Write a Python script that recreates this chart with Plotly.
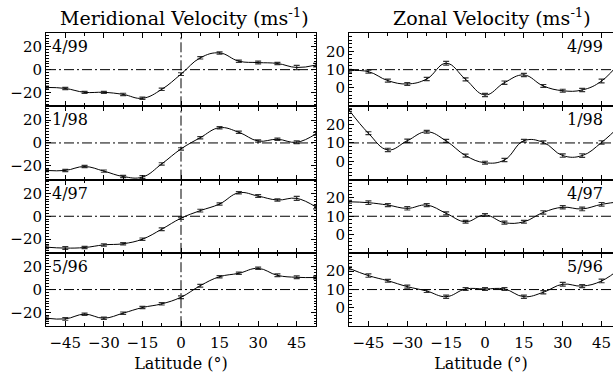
import plotly.graph_objects as go

# Latitude grid of the measurements (degrees)
latitude = [-52.5, -45, -37.5, -30, -22.5, -15, -7.5, 0, 7.5, 15, 22.5, 30, 37.5, 45, 52.5]

epochs = ["4/99", "1/98", "4/97", "5/96"]

# Meridional velocity (m/s) per epoch
meridional_4_99 = [-15.5, -16.4, -19.8, -19.8, -21.6, -25.0, -17.2, -3.9, 10.3, 14.6, 7.4, 6.2, 5.4, 1.9, 4.0]
meridional_1_98 = [-24.0, -24.0, -20.6, -24.6, -29.3, -29.8, -18.3, -5.2, 4.6, 13.3, 9.3, 1.7, 3.2, 0.6, 8.0]
meridional_4_97 = [-27.0, -27.8, -27.3, -25.0, -24.0, -20.0, -11.3, -1.7, 4.9, 10.7, 20.5, 17.6, 14.2, 15.6, 8.0]
meridional_5_96 = [-25.0, -25.6, -21.5, -25.0, -20.6, -15.7, -12.5, -6.7, 3.4, 11.2, 14.2, 18.5, 12.4, 10.7, 10.5]

meridional_err_4_99 = [1.2, 1.0, 0.9, 0.9, 1.0, 1.0, 1.0, 1.2, 1.0, 1.0, 1.0, 1.2, 1.0, 1.8, 1.5]
meridional_err_1_98 = [1.0, 1.0, 1.0, 1.0, 1.0, 1.2, 1.0, 1.0, 1.0, 1.0, 1.0, 1.0, 1.0, 1.2, 1.2]
meridional_err_4_97 = [1.2, 1.2, 1.0, 1.0, 1.0, 1.0, 1.2, 1.0, 1.2, 1.0, 1.0, 1.2, 1.0, 1.8, 1.5]
meridional_err_5_96 = [1.2, 1.2, 1.0, 1.0, 1.0, 1.0, 1.0, 1.2, 1.2, 1.0, 1.0, 1.0, 1.2, 1.2, 1.2]

# Zonal velocity (m/s) per epoch
zonal_4_99 = [9.4, 8.9, 4.0, 2.2, 4.9, 13.5, 4.7, -3.8, 2.9, 7.1, 1.1, -1.5, -1.1, 3.8, 15.0]
zonal_1_98 = [28.0, 15.3, 6.2, 11.2, 16.1, 11.1, 3.1, -0.8, 0.7, 11.2, 10.3, 3.1, 3.1, 10.3, 20.0]
zonal_4_97 = [17.9, 17.4, 16.1, 14.3, 16.1, 11.6, 7.0, 10.7, 6.5, 7.0, 12.1, 14.9, 14.0, 16.5, 18.0]
zonal_5_96 = [21.6, 17.6, 14.8, 11.6, 9.2, 6.1, 10.3, 10.3, 10.3, 6.1, 8.5, 12.9, 11.9, 14.7, 22.0]

zonal_err_4_99 = [0.8, 0.8, 0.8, 0.8, 0.9, 1.0, 0.8, 0.9, 0.9, 0.9, 0.8, 0.8, 0.9, 1.0, 1.0]
zonal_err_1_98 = [0.8, 0.8, 0.9, 0.9, 0.8, 0.8, 0.8, 0.8, 0.9, 0.8, 0.8, 0.9, 1.0, 0.9, 1.0]
zonal_err_4_97 = [0.8, 1.0, 0.8, 0.9, 0.8, 0.8, 0.8, 0.8, 0.8, 0.8, 0.9, 0.9, 1.0, 1.0, 1.0]
zonal_err_5_96 = [0.8, 0.9, 0.8, 0.8, 0.8, 0.9, 0.8, 0.8, 0.8, 0.9, 0.9, 1.0, 0.8, 1.0, 1.0]

meridional = [meridional_4_99, meridional_1_98, meridional_4_97, meridional_5_96]
meridional_err = [meridional_err_4_99, meridional_err_1_98, meridional_err_4_97, meridional_err_5_96]
zonal = [zonal_4_99, zonal_1_98, zonal_4_97, zonal_5_96]
zonal_err = [zonal_err_4_99, zonal_err_1_98, zonal_err_4_97, zonal_err_5_96]

x_tick_vals = [-45, -30, -15, 0, 15, 30, 45]
x_tick_text = ["\u221245", "\u221230", "\u221215", "0", "15", "30", "45"]
merid_tick_vals = [-20, 0, 20]
merid_tick_text = ["\u221220", "0", "20"]
zonal_tick_vals = [0, 10, 20]

W, H = 613, 373
FONT = "DejaVu Serif"
DASHDOT = "10px,3px,2px,3px"
TICK_FONT = dict(family=FONT, size=15)

# panel geometry in pixels
left_x = (46, 316)
right_x = (349, 613)
row_edges = [33, 106.3, 179.6, 252.9, 326.2]


def px_x(a, b):
    return [a / W, b / W]


def px_y(top, bottom):
    return [1 - bottom / H, 1 - top / H]


fig = go.Figure()
layout = dict(
    width=W, height=H,
    margin=dict(l=0, r=0, t=0, b=0),
    paper_bgcolor="white", plot_bgcolor="white",
    showlegend=False,
    font=dict(family=FONT, size=14, color="black"),
)
shapes = []
annotations = []

for i in range(4):
    li = 2 * i + 1
    ri = 2 * i + 2
    lx = "x" if li == 1 else f"x{li}"
    ly = "y" if li == 1 else f"y{li}"
    rx = f"x{ri}"
    ry = f"y{ri}"
    dom_y = px_y(row_edges[i], row_edges[i + 1])
    bottom = i == 3

    fig.add_trace(go.Scatter(
        x=latitude, y=meridional[i], mode="lines",
        line=dict(color="black", width=1, shape="spline", smoothing=1.2),
        error_y=dict(type="data", array=meridional_err[i], color="#333", thickness=1.2, width=3),
        xaxis=lx, yaxis=ly, cliponaxis=True,
    ))
    fig.add_trace(go.Scatter(
        x=latitude, y=zonal[i], mode="lines",
        line=dict(color="black", width=1, shape="spline", smoothing=1.2),
        error_y=dict(type="data", array=zonal_err[i], color="#333", thickness=1.2, width=3),
        xaxis=rx, yaxis=ry, cliponaxis=True,
    ))

    common_x = dict(
        showgrid=False, zeroline=False, showline=True, linecolor="black", linewidth=1,
        mirror="allticks", ticks="inside", ticklen=5, tickcolor="black",
        tickvals=x_tick_vals, ticktext=x_tick_text,
        showticklabels=bottom, tickfont=TICK_FONT,
        minor=dict(dtick=7.5, tick0=0, ticks="inside", ticklen=3, tickcolor="black"),
    )
    lxa = dict(common_x, domain=px_x(*left_x), range=[-52.5, 52.5], anchor=ly)
    rxa = dict(common_x, domain=px_x(*right_x), range=[-52.5, 49.4], anchor=ry)
    if bottom:
        lat_title = dict(text="Latitude (\u00b0)", font=dict(family=FONT, size=16), standoff=7)
        lxa["title"] = lat_title
        rxa["title"] = lat_title
        lxa["ticklabelstandoff"] = 3
        rxa["ticklabelstandoff"] = 3
    layout["xaxis" + ("" if li == 1 else str(li))] = lxa
    layout["xaxis" + str(ri)] = rxa

    layout["yaxis" + ("" if li == 1 else str(li))] = dict(
        domain=dom_y, range=[-32, 32], anchor=lx,
        showgrid=False, zeroline=False, showline=True, linecolor="black", linewidth=1,
        mirror="allticks", ticks="inside", ticklen=5, tickcolor="black",
        tickvals=merid_tick_vals, ticktext=merid_tick_text,
        tickfont=TICK_FONT,
        minor=dict(dtick=2.5, tick0=0, ticks="inside", ticklen=2.5, tickcolor="black"),
    )
    layout["yaxis" + str(ri)] = dict(
        domain=dom_y, range=[-10, 30], anchor=rx,
        showgrid=False, zeroline=False, showline=True, linecolor="black", linewidth=1,
        mirror=False, ticks="inside", ticklen=5, tickcolor="black",
        tickvals=zonal_tick_vals,
        tickfont=TICK_FONT,
        minor=dict(dtick=2, tick0=0, ticks="inside", ticklen=2.5, tickcolor="black"),
    )

    # reference lines: zero meridional flow, 10 m/s zonal level
    shapes.append(dict(type="line", xref=lx + " domain", yref=ly, x0=0, x1=1, y0=0, y1=0,
                       line=dict(color="black", width=1, dash=DASHDOT)))
    shapes.append(dict(type="line", xref=lx, yref=ly + " domain", x0=0, x1=0, y0=0, y1=1,
                       line=dict(color="black", width=1, dash=DASHDOT)))
    shapes.append(dict(type="line", xref=rx + " domain", yref=ry, x0=0, x1=1, y0=10, y1=10,
                       line=dict(color="black", width=1, dash=DASHDOT)))

    # epoch labels
    annotations.append(dict(text=epochs[i], xref=lx + " domain", yref=ly + " domain",
                            x=0.015, y=0.97, xanchor="left", yanchor="top", showarrow=False,
                            font=dict(family=FONT, size=16)))
    annotations.append(dict(text=epochs[i], xref=rx + " domain", yref=ry + " domain",
                            x=0.97, y=0.97, xanchor="right", yanchor="top", showarrow=False,
                            font=dict(family=FONT, size=16)))

annotations.append(dict(text="Meridional Velocity (ms<sup>-1</sup>)", xref="paper", yref="paper",
                        x=184 / W, y=1 - 17 / H, xanchor="center", yanchor="middle", showarrow=False,
                        font=dict(family=FONT, size=19)))
annotations.append(dict(text="Zonal Velocity (ms<sup>-1</sup>)", xref="paper", yref="paper",
                        x=492 / W, y=1 - 17 / H, xanchor="center", yanchor="middle", showarrow=False,
                        font=dict(family=FONT, size=19)))

layout["shapes"] = shapes
layout["annotations"] = annotations
fig.update_layout(**layout)
fig.write_html("out.html")
